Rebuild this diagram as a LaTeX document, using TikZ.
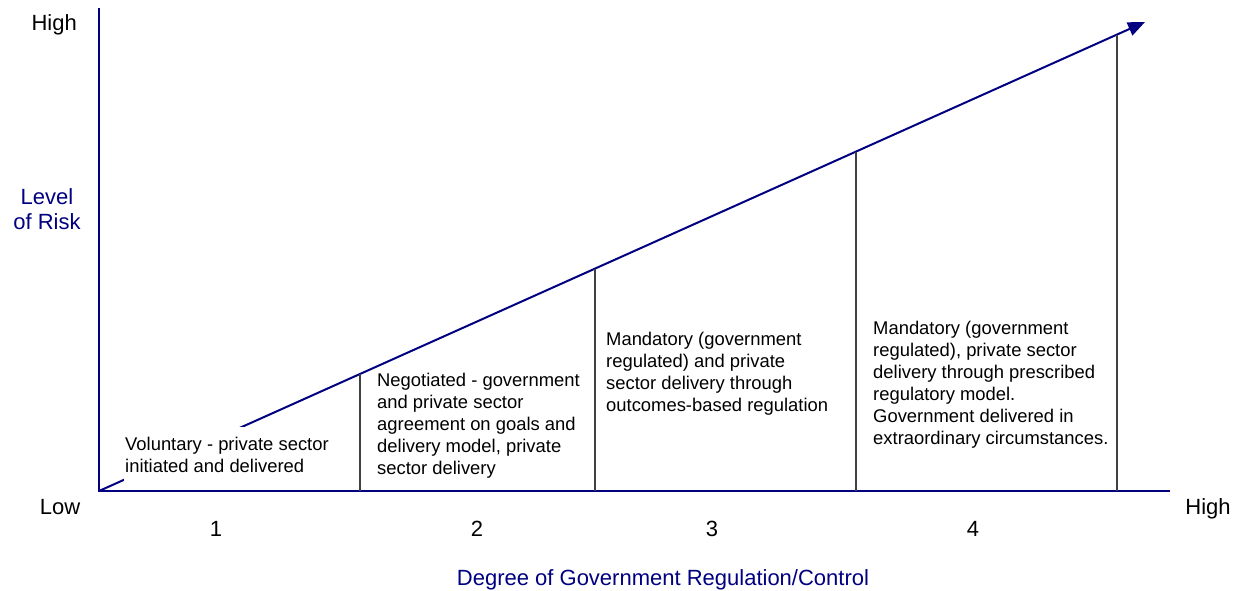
\documentclass[tikz,border=0pt]{standalone}
\usepackage{fontspec}
\setmainfont{Liberation Sans}
\usetikzlibrary{arrows.meta,calc}
\definecolor{navy}{RGB}{0,0,128}
\begin{document}
\begin{tikzpicture}[x=1pt,y=-1pt,
  axis/.style={draw=navy,line width=1.5pt},
  riskline/.style={draw=navy,line width=2pt,-{Triangle[length=17pt,width=14pt]}},
  divider/.style={draw=black!75,line width=1.1pt},
  blocktext/.style={anchor=base west,align=left,inner sep=0pt,font=\fontsize{18.4}{22}\selectfont},
  axislabel/.style={inner sep=0pt,font=\fontsize{22}{25}\selectfont},
  navylabel/.style={axislabel,text=navy}]
\useasboundingbox (0,0) rectangle (1238,590);
\coordinate (O) at (99,491);
\coordinate (ytop) at (99,8);
\coordinate (xend) at (1170,491);
\coordinate (T) at (1145,22);
\draw[axis] (ytop) -- (O) -- (xend);
\draw[riskline] (O) -- (T);
\coordinate (d1) at ($(O)!0.2495!(T)$);
\coordinate (d2) at ($(O)!0.4742!(T)$);
\coordinate (d3) at ($(O)!0.7237!(T)$);
\coordinate (d4) at ($(O)!0.9732!(T)$);
\draw[divider] (d1) -- (d1 |- O);
\draw[divider] (d2) -- (d2 |- O);
\draw[divider] (d3) -- (d3 |- O);
\draw[divider] (d4) -- (d4 |- O);
\node[blocktext,fill=white,inner xsep=1pt,inner ysep=10pt] (b1) at (124,472) {Voluntary - private sector\\initiated and delivered};
\node[blocktext] (b2) at (377,474.6) {Negotiated - government\\and private sector\\agreement on goals and\\delivery model, private\\sector delivery};
\node[blocktext] (b3) at (606,411.6) {Mandatory (government\\regulated) and private\\sector delivery through\\outcomes-based regulation};
\node[blocktext] (b4) at (873,444.6) {Mandatory (government\\regulated), private sector\\delivery through prescribed\\regulatory model.\\Government delivered in\\extraordinary circumstances.};
\node[axislabel,anchor=base east] (yhigh) at (77,30) {High};
\node[navylabel,anchor=base,align=center] (ylab) at (47,229) {Level\\of Risk};
\node[axislabel,anchor=base] (low) at (60,514) {Low};
\node[axislabel,anchor=base] (xhigh) at (1208,514) {High};
\node[axislabel,anchor=base] (n1) at (216,536) {1};
\node[axislabel,anchor=base] (n2) at (477,536) {2};
\node[axislabel,anchor=base] (n3) at (712,536) {3};
\node[axislabel,anchor=base] (n4) at (973,536) {4};
\node[navylabel,anchor=base] (xlab) at (663,585) {Degree of Government Regulation/Control};
\end{tikzpicture}
\end{document}
